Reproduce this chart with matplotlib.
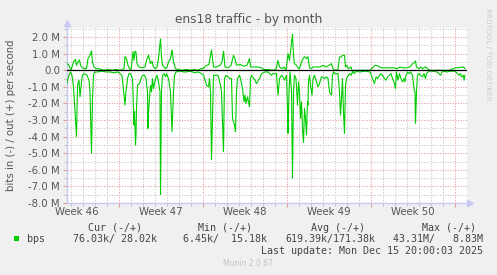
"""
munin style traffic graph, ens18 by month
"""
import matplotlib
matplotlib.use("Agg")
import matplotlib.pyplot as plt
from matplotlib.patches import Rectangle
from matplotlib.ticker import FuncFormatter, MultipleLocator
import matplotlib.transforms as mtransforms

# hours since Mon Nov 10 00:00 (start of week 46), values in Mbit/s
hours_out = [64, 67, 72, 77, 81, 83, 86, 89, 91, 95, 98, 103, 106, 110, 113, 115, 118, 122, 128,
             132, 138, 146, 154, 162, 170, 178, 180, 183, 186, 189, 192, 196, 198, 200, 202, 204,
             208, 214, 220, 224, 227, 231, 234, 237, 241, 244, 247, 251, 253, 255, 258, 261, 264,
             267, 271, 274, 277, 281, 286, 294, 302, 310, 318, 326, 332, 336, 342, 348, 353, 357,
             362, 370, 374, 377, 380, 386, 392, 397, 400, 403, 410, 418, 424, 429, 431, 438, 446,
             452, 458, 466, 474, 482, 486, 489, 494, 498, 502, 506, 509, 513, 515, 517, 519, 523,
             526, 529, 533, 536, 539, 543, 546, 549, 553, 556, 562, 570, 576, 582, 589, 593, 596,
             600, 606, 609, 612, 615, 619, 621, 623, 627, 632, 635, 639, 644, 654, 662, 670, 675,
             679, 682, 685, 689, 694, 706, 718, 724, 730, 736, 742, 750, 755, 758, 761, 763, 768,
             771, 775, 778, 781, 785, 790, 800, 810, 820, 830, 840, 844, 857, 860]
bps_out = [0.4, 0.35, 0.0, 0.5, 0.66, 0.3, 0.5, 0.63, 0.3, 0.15, 0.1, 0.1, 0.7, 0.9, 1.17, 0.5,
           0.2, 0.1, 0.1, 0.05, 0.0, 0.05, 0.0, 0.05, 0.0, 0.1, 0.82, 0.7, 0.3, 0.1, 0.0, 1.13,
           0.6, 1.15, 1.1, 0.4, 0.2, 0.15, 0.2, 0.7, 0.92, 0.4, 0.55, 0.2, 0.1, 0.2, 0.7, 1.9,
           0.8, 0.3, 0.2, 0.1, 0.2, 0.5, 0.7, 1.23, 0.5, 0.1, 0.05, 0.0, 0.05, 0.0, 0.05, 0.0,
           0.1, 0.1, 0.28, 0.35, 1.23, 0.2, 0.2, 0.3, 0.5, 1.15, 0.2, 0.15, 0.3, 0.9, 0.7, 0.3,
           0.35, 0.25, 0.3, 0.7, 0.2, 0.2, 0.2, 0.15, 0.05, 0.05, 0.0, 0.05, 0.6, 0.2, 0.1, 0.2,
           0.0, 1.0, 0.6, 1.63, 2.17, 0.9, 0.4, 0.3, 0.15, 0.1, 0.5, 0.7, 0.82, 0.7, 0.82, 0.15,
           0.1, 0.2, 0.2, 0.2, 0.3, 0.2, 0.32, 0.4, 0.1, 0.0, 0.05, 0.8, 0.8, 0.9, 0.9, 0.2, 0.3,
           0.1, 0.2, -0.1, 0.0, 0.0, 0.0, 0.0, 0.0, 0.15, 0.27, 0.3, 0.27, 0.2, 0.15, 0.15, 0.15,
           0.1, 0.2, 0.15, 0.15, 0.2, 0.4, 0.45, 0.56, 0.2, 0.1, 0.2, 0.1, 0.15, 0.2, 0.1, 0.0,
           0.0, 0.0, 0.0, 0.0, 0.15, 0.15, 0.2, 0.1]

hours_in = [64, 66, 68, 71, 74, 77, 80, 83, 85, 88, 90, 93, 95, 98, 104, 108, 110, 113, 115, 117,
            119, 126, 134, 142, 150, 158, 166, 174, 180, 182, 185, 188, 191, 195, 196, 198, 199,
            201, 202, 203, 205, 209, 212, 215, 219, 222, 225, 226, 227, 231, 233, 235, 237, 241,
            244, 247, 250, 251, 253, 255, 258, 261, 263, 267, 271, 274, 277, 279, 282, 290, 298,
            302, 310, 320, 326, 330, 337, 343, 347, 349, 351, 353, 357, 366, 371, 373, 377, 379,
            382, 390, 393, 395, 399, 401, 403, 405, 409, 411, 415, 418, 420, 422, 425, 429, 431,
            433, 440, 443, 449, 453, 460, 466, 473, 476, 483, 486, 489, 493, 496, 499, 503, 505,
            506, 508, 510, 513, 515, 517, 519, 522, 525, 527, 529, 531, 533, 535, 537, 539, 541,
            543, 545, 546, 547, 549, 551, 554, 556, 559, 563, 566, 569, 573, 576, 579, 583, 586,
            589, 593, 595, 597, 600, 606, 609, 611, 613, 615, 617, 619, 621, 623, 625, 629, 632,
            635, 639, 642, 650, 660, 670, 675, 679, 682, 685, 689, 692, 695, 699, 702, 705, 709,
            712, 715, 719, 721, 723, 726, 729, 732, 735, 738, 740, 741, 745, 748, 751, 755, 758,
            760, 761, 763, 765, 768, 771, 775, 778, 781, 783, 788, 794, 804, 811, 815, 824, 830,
            840, 848, 851, 853, 857, 858, 860]
bps_in = [-0.8, -0.5, -0.3, -0.1, -0.3, -1.0, -2.5, -4.0, -0.9, -0.6, -1.6, -0.7, -0.3, -0.2,
          -0.3, -0.6, -1.3, -5.0, -1.7, -0.3, -0.1, -0.1, -0.05, -0.1, -0.1, -0.15, -0.1, -0.3,
          -2.1, -1.3, -0.5, -0.2, -0.2, -0.5, -1.3, -3.3, -2.5, -4.5, -3.9, -2.3, -0.9, -0.8,
          -0.5, -0.3, -0.3, -0.5, -1.3, -3.5, -2.5, -0.9, -1.3, -0.5, -1.1, -0.5, -0.3, -0.7,
          -1.3, -7.5, -1.3, -0.3, -0.2, -0.4, -0.2, -0.5, -1.3, -3.7, -1.3, -0.3, -0.1, -0.05,
          -0.1, -0.1, -0.05, -0.15, -0.1, -0.15, -0.28, -0.9, -1.0, -0.5, -1.3, -5.4, -0.3,
          -0.3, -0.9, -1.3, -4.9, -0.5, -0.3, -0.5, -0.5, -2.9, -3.3, -3.7, -1.3, -0.5, -0.3,
          -0.5, -1.1, -1.9, -1.5, -2.0, -1.6, -2.2, -0.5, -0.3, -0.6, -0.8, -0.5, -0.2, -0.1,
          -0.1, -0.3, -0.2, -0.2, -1.5, -0.5, -0.3, -0.4, -0.6, -0.3, -2.3, -3.8, -1.3, -0.1,
          -1.3, -6.5, -1.3, -0.3, -0.5, -2.1, -0.7, -1.3, -2.9, -1.9, -3.5, -4.35, -2.3, -2.9,
          -3.9, -1.9, -2.1, -0.7, -0.3, -0.9, -1.5, -0.5, -0.3, -0.7, -1.0, -0.8, -0.4, -0.4,
          -0.5, -0.4, -0.5, -1.3, -1.5, -0.3, -0.1, -0.2, -0.2, -1.3, -2.7, -1.7, -0.5, -2.5,
          -3.8, -0.9, -0.5, -0.4, -0.2, -0.3, -0.1, -0.2, -0.05, -0.1, -0.05, -0.1, -0.5, -0.8,
          -0.4, -0.5, -0.3, -0.2, -0.3, -0.5, -0.6, -0.4, -0.3, -0.2, -0.5, -0.8, -1.1, -0.1,
          -0.6, -0.2, -0.5, -0.7, -0.5, -0.7, -0.4, -0.1, -0.2, -0.1, -0.3, -1.1, -1.3, -3.2,
          -1.3, -0.3, -0.2, -0.3, -0.4, -0.2, -0.5, -0.2, -0.05, -0.05, -0.1, -0.3, -0.05, -0.1,
          -0.05, -0.05, -0.3, -0.2, -0.4, -0.3, -0.6, -0.3]

week_days = [3.5, 10.5, 17.5, 24.5, 31.5]
week_labels = ["Week 46", "Week 47", "Week 48", "Week 49", "Week 50"]

cur = "76.03k/ 28.02k"
mn = "6.45k/  15.18k"
avg = "619.39k/171.38k"
mx = "43.31M/   8.83M"
last_update = "Last update: Mon Dec 15 20:00:03 2025"

W, H = 497, 275
fig = plt.figure(figsize=(W / 100, H / 100), dpi=100)
fig.patch.set_facecolor("#f0f0f0")


def fx(px):
    return px / W


def fy(py):
    return 1 - py / H


ax = fig.add_axes([fx(67), fy(203), fx(400), 175 / H])
ax.set_facecolor("white")

days_out = [h / 24 for h in hours_out]
days_in = [h / 24 for h in hours_in]
ax.plot(days_in, [v * 1e6 for v in bps_in], color="#00cc00", lw=0.8, zorder=3)
ax.plot(days_out, [v * 1e6 for v in bps_out], color="#00cc00", lw=0.8, zorder=3)
ax.axhline(0, color="black", lw=0.9, zorder=4)

ax.set_xlim(64 / 24, 36)
ax.set_ylim(-8e6, 2.55e6)

ax.xaxis.set_major_locator(MultipleLocator(7))
ax.xaxis.set_minor_locator(MultipleLocator(1))
ax.yaxis.set_major_locator(MultipleLocator(1e6))
ax.yaxis.set_minor_locator(MultipleLocator(0.5e6))
ax.xaxis.set_major_formatter(FuncFormatter(lambda v, p: ""))
ax.yaxis.set_major_formatter(
    FuncFormatter(lambda v, p: "0.0" if abs(v) < 1 else "%.1f M" % (v / 1e6)))

ax.grid(which="minor", color="#c4c4c4", linestyle=(0, (1, 1.5)), lw=0.75, zorder=1)
ax.grid(which="major", color="#e69a9a", linestyle=(0, (1, 1.5)), lw=0.75, zorder=2)
ax.set_axisbelow(True)

ax.tick_params(axis="both", which="major", length=3, color="#e69a9a", width=0.8,
               labelsize=7.3, labelcolor="#555555", pad=2)
ax.tick_params(axis="both", which="minor", length=2, color="#c4c4c4", width=0.8)

for s in ["top", "right"]:
    ax.spines[s].set_visible(False)
for s in ["left", "bottom"]:
    ax.spines[s].set_color("#c8c8f4")
    ax.spines[s].set_linewidth(1.0)

# axis arrows
ax.plot([0], [1 + 5 / 175], marker="^", ms=5, color="#c8c8f4", transform=ax.transAxes,
        clip_on=False, zorder=5)
ax.plot([0, 0], [1, 1 + 5 / 175], color="#c8c8f4", lw=1.0, transform=ax.transAxes,
        clip_on=False, zorder=5)
ax.plot([1 + 3 / 400], [0], marker=">", ms=5, color="#c8c8f4", transform=ax.transAxes,
        clip_on=False, zorder=5)

trans = mtransforms.blended_transform_factory(ax.transData, fig.transFigure)
for d, lab in zip(week_days, week_labels):
    ax.text(d, fy(212), lab, transform=trans, ha="center", va="center",
            fontsize=7.3, color="#555555")

ax.set_ylabel("bits in (-) / out (+) per second", fontsize=7.3, color="#555555")
ax.yaxis.set_label_coords((16 - 67) / 400, 0.5)

fig.text(0.5, fy(20), "ens18 traffic - by month", ha="center", va="center",
         fontsize=8.7, color="#555555")
fig.text(fx(488), fy(54), "RRDTOOL / TOBI OETIKER", rotation=270, ha="center",
         va="center", fontsize=5.2, color="#cccccc")

mono = dict(family="DejaVu Sans Mono", fontsize=7.2, color="#444444", va="center")
fig.text(fx(142), fy(228), "Cur (-/+)", ha="right", **mono)
fig.text(fx(252), fy(228), "Min (-/+)", ha="right", **mono)
fig.text(fx(365), fy(228), "Avg (-/+)", ha="right", **mono)
fig.text(fx(476), fy(228), "Max (-/+)", ha="right", **mono)

fig.add_artist(Rectangle((fx(14), fy(241)), fx(5), 5 / H, transform=fig.transFigure,
                         facecolor="#00cc00", edgecolor="none"))
fig.text(fx(27), fy(239), "bps", ha="left", **mono)
fig.text(fx(157), fy(239), cur, ha="right", **mono)
fig.text(fx(267), fy(239), mn, ha="right", **mono)
fig.text(fx(375), fy(239), avg, ha="right", **mono)
fig.text(fx(483), fy(239), mx, ha="right", **mono)
fig.text(fx(483), fy(251), last_update, ha="right", **mono)

fig.text(fx(223), fy(264), "Munin 2.0.67", ha="left", va="center", fontsize=5.5,
         color="#c4c4c4")

fig.savefig("out.png", dpi=100, facecolor=fig.get_facecolor())
